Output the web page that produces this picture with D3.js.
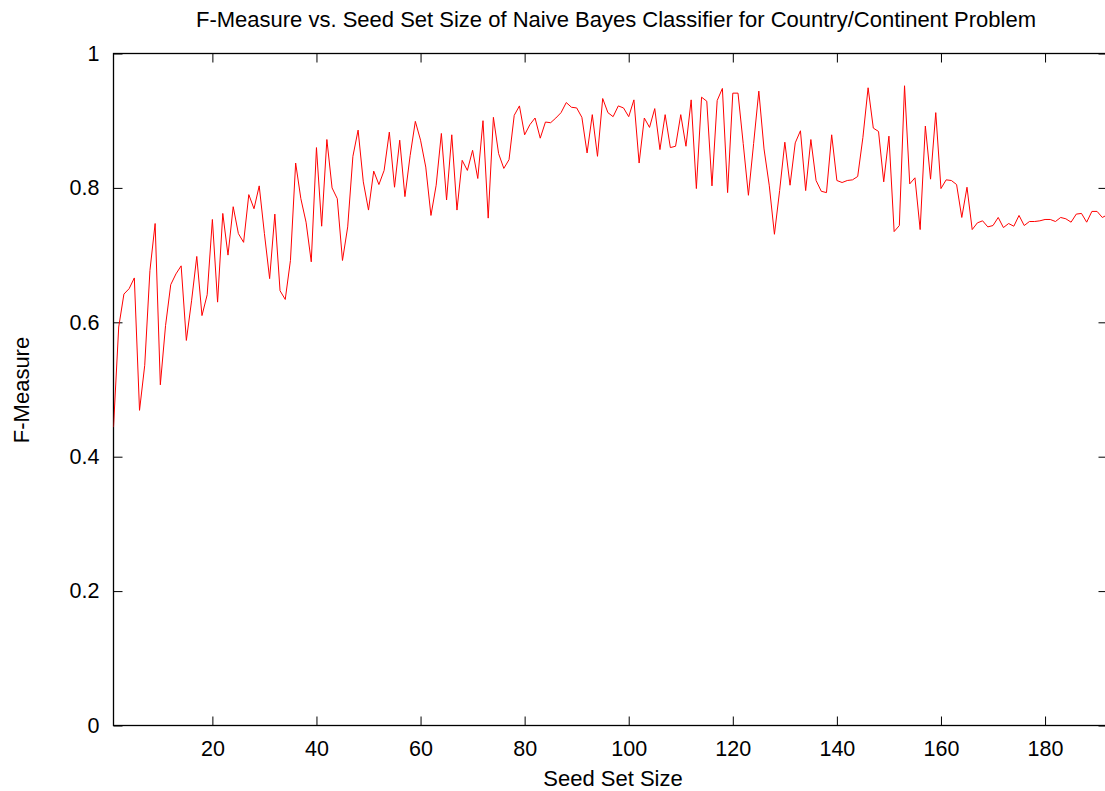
<!DOCTYPE html>
<html lang="en">
<head>
<meta charset="UTF-8">
<script src="https://d3js.org/d3.v7.min.js"></script>
<style>
  body { margin: 0; background: #fff; font-family: "Liberation Sans", Arial, sans-serif; overflow: hidden; }
  .tick text { font-size: 21.5px; fill: #000; font-family: "Liberation Sans", Arial, sans-serif; }
</style>
</head>
<body>
<svg id="chart" width="1105" height="791"></svg>
<script>
const titleText = "F-Measure vs. Seed Set Size of Naive Bayes Classifier for Country/Continent Problem";
const xLabel = "Seed Set Size";
const yLabel = "F-Measure";
const xTicks = [20, 40, 60, 80, 100, 120, 140, 160, 180];
const yTicks = [0, 0.2, 0.4, 0.6, 0.8, 1];
const fMeasure = [
  0.444, 0.593, 0.642, 0.650, 0.666, 0.469, 0.536, 0.677, 0.747, 0.507,
  0.595, 0.656, 0.672, 0.684, 0.573, 0.632, 0.698, 0.610, 0.641, 0.753,
  0.630, 0.762, 0.700, 0.772, 0.732, 0.719, 0.790, 0.769, 0.803, 0.732,
  0.665, 0.761, 0.647, 0.634, 0.692, 0.837, 0.784, 0.749, 0.690, 0.860,
  0.743, 0.872, 0.800, 0.784, 0.692, 0.742, 0.847, 0.886, 0.809, 0.767,
  0.825, 0.805, 0.826, 0.883, 0.801, 0.871, 0.787, 0.848, 0.899, 0.871,
  0.831, 0.759, 0.804, 0.881, 0.782, 0.879, 0.767, 0.841, 0.826, 0.856,
  0.814, 0.900, 0.755, 0.905, 0.851, 0.829, 0.842, 0.908, 0.922, 0.879,
  0.894, 0.904, 0.874, 0.898, 0.897, 0.904, 0.912, 0.927, 0.920, 0.919,
  0.905, 0.852, 0.909, 0.847, 0.933, 0.912, 0.906, 0.922, 0.919, 0.906,
  0.931, 0.837, 0.904, 0.890, 0.918, 0.857, 0.909, 0.860, 0.862, 0.909,
  0.862, 0.931, 0.799, 0.935, 0.929, 0.803, 0.930, 0.948, 0.793, 0.941,
  0.941, 0.866, 0.789, 0.866, 0.944, 0.858, 0.804, 0.731, 0.796, 0.868,
  0.804, 0.867, 0.885, 0.796, 0.872, 0.811, 0.795, 0.793, 0.879, 0.811,
  0.808, 0.811, 0.812, 0.817, 0.875, 0.949, 0.889, 0.884, 0.809, 0.877,
  0.735, 0.744, 0.952, 0.806, 0.815, 0.738, 0.892, 0.813, 0.912, 0.799,
  0.812, 0.811, 0.805, 0.756, 0.801, 0.738, 0.748, 0.751, 0.742, 0.744,
  0.756, 0.741, 0.747, 0.743, 0.759, 0.744, 0.750, 0.750, 0.751, 0.753,
  0.753, 0.750, 0.756, 0.754, 0.749, 0.761, 0.762, 0.749, 0.765, 0.765,
  0.756, 0.760
];
const seedSize = fMeasure.map((d, i) => i + 1);

const svg = d3.select("#chart");
const plot = {left: 113.5, right: 1107.5, top: 53.5, bottom: 725.5};

const x = d3.scaleLinear().domain([1, 192]).range([plot.left, plot.right]);
const y = d3.scaleLinear().domain([0, 1]).range([plot.bottom, plot.top]);

svg.append("defs").append("clipPath").attr("id", "clip")
  .append("rect").attr("x", plot.left).attr("y", plot.top)
  .attr("width", plot.right - plot.left).attr("height", plot.bottom - plot.top);

// axes with inward ticks, mirrored like gnuplot
svg.append("g").attr("transform", `translate(0,${plot.bottom})`)
  .call(d3.axisBottom(x).tickValues(xTicks).tickSizeInner(-9).tickSizeOuter(0).tickPadding(15))
  .call(g => g.select(".domain").remove());
svg.append("g").attr("transform", `translate(0,${plot.top})`)
  .call(d3.axisTop(x).tickValues(xTicks).tickSizeInner(-9).tickSizeOuter(0))
  .call(g => g.select(".domain").remove())
  .call(g => g.selectAll("text").remove());
svg.append("g").attr("transform", `translate(${plot.left},0)`)
  .call(d3.axisLeft(y).tickValues(yTicks).tickFormat(d3.format("")).tickSizeInner(-9).tickSizeOuter(0).tickPadding(14))
  .call(g => g.select(".domain").remove());
svg.append("g").attr("transform", `translate(${plot.right},0)`)
  .call(d3.axisRight(y).tickValues(yTicks).tickSizeInner(-9).tickSizeOuter(0))
  .call(g => g.select(".domain").remove())
  .call(g => g.selectAll("text").remove());

svg.selectAll(".tick line").attr("stroke", "#000").attr("stroke-width", 1);

svg.append("rect").attr("x", plot.left).attr("y", plot.top)
  .attr("width", plot.right - plot.left).attr("height", plot.bottom - plot.top)
  .attr("fill", "none").attr("stroke", "#000").attr("stroke-width", 1.3);

const line = d3.line().x((d, i) => x(seedSize[i])).y(d => y(d));
svg.append("path").datum(fMeasure)
  .attr("clip-path", "url(#clip)")
  .attr("fill", "none").attr("stroke", "#ff0000").attr("stroke-width", 1)
  .attr("d", line);

svg.append("text").attr("x", 616).attr("y", 27).attr("text-anchor", "middle")
  .style("font-size", "22px").text(titleText);
svg.append("text").attr("x", 613).attr("y", 786).attr("text-anchor", "middle")
  .style("font-size", "22px").text(xLabel);
svg.append("text").attr("transform", "translate(29,390) rotate(-90)").attr("text-anchor", "middle")
  .style("font-size", "22px").text(yLabel);
</script>
</body>
</html>
